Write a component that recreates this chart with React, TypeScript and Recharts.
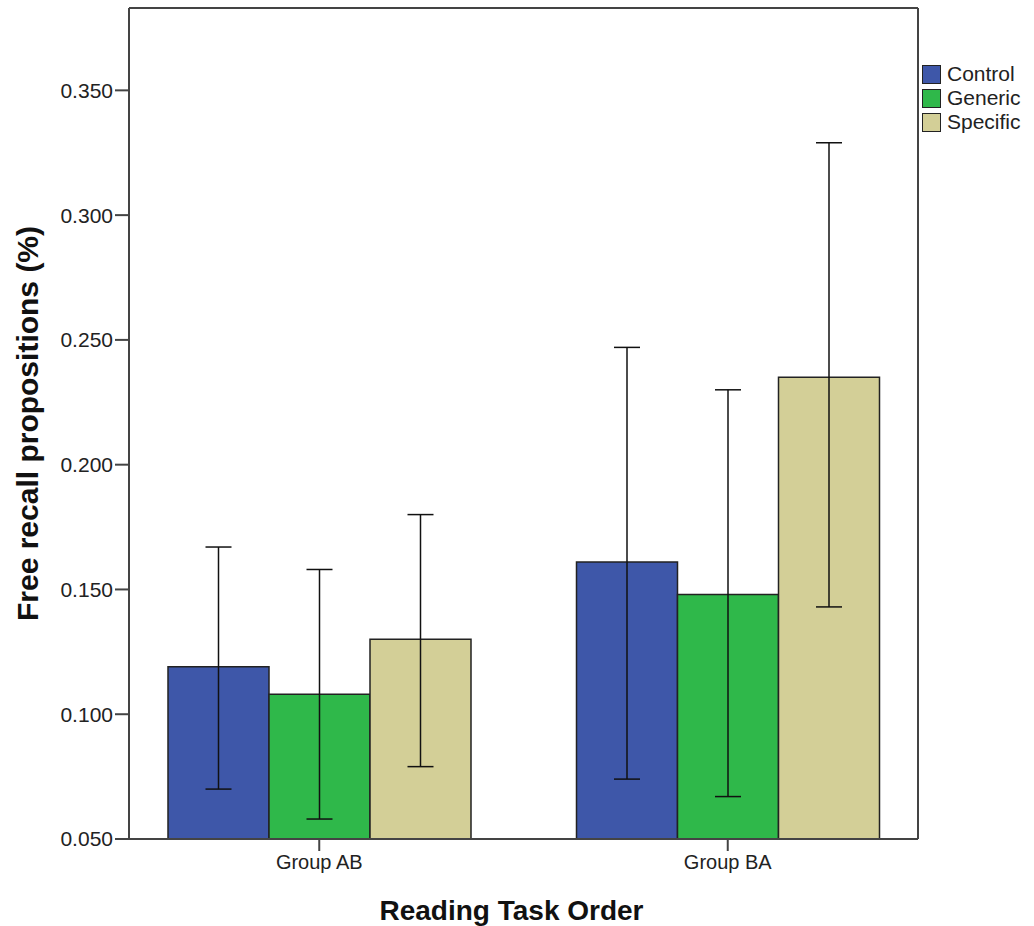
import React from 'react';
import { BarChart, Bar, XAxis, YAxis, ErrorBar, Legend } from 'recharts';

const groups = ['Group AB', 'Group BA'];

const controlMean = [0.119, 0.161];
const controlLow = [0.070, 0.074];
const controlHigh = [0.167, 0.247];

const genericMean = [0.108, 0.148];
const genericLow = [0.058, 0.067];
const genericHigh = [0.158, 0.230];

const specificMean = [0.130, 0.235];
const specificLow = [0.079, 0.143];
const specificHigh = [0.180, 0.329];

const yTicks = [0.05, 0.1, 0.15, 0.2, 0.25, 0.3, 0.35];

const series = [
  { key: 'control', name: 'Control', color: '#3e57a9' },
  { key: 'generic', name: 'Generic', color: '#2fb84a' },
  { key: 'specific', name: 'Specific', color: '#d3cf97' },
];

const data = groups.map((group, i) => ({
  group,
  control: controlMean[i],
  controlErr: [controlMean[i] - controlLow[i], controlHigh[i] - controlMean[i]],
  generic: genericMean[i],
  genericErr: [genericMean[i] - genericLow[i], genericHigh[i] - genericMean[i]],
  specific: specificMean[i],
  specificErr: [specificMean[i] - specificLow[i], specificHigh[i] - specificMean[i]],
}));

const font = '"Liberation Sans", Arial, sans-serif';
const frame = { stroke: '#444', strokeWidth: 2 };

const LegendBox = () => (
  <div style={{ fontFamily: font, fontSize: 21, color: '#222' }}>
    {series.map((s) => (
      <div key={s.key} style={{ display: 'flex', alignItems: 'center', height: 24 }}>
        <span
          style={{
            display: 'inline-block',
            width: 17,
            height: 17,
            background: s.color,
            border: '1.5px solid #222',
            marginRight: 6,
          }}
        />
        <span>{s.name}</span>
      </div>
    ))}
  </div>
);

export default function App() {
  return (
    <div style={{ position: 'absolute', left: 0, top: 0 }}>
      <BarChart
        width={1034}
        height={926}
        data={data}
        margin={{ top: 7, right: 115, bottom: 0, left: 0 }}
        barGap={0}
        barCategoryGap={53}
      >
        <XAxis
          dataKey="group"
          height={87}
          padding={{ left: -14, right: -14 }}
          axisLine={frame}
          tickLine={{ stroke: '#444', strokeWidth: 2 }}
          tickSize={12}
          tickMargin={4}
          tick={{ fontFamily: font, fontSize: 20, fill: '#222' }}
          label={{
            value: 'Reading Task Order',
            position: 'insideBottom',
            offset: 6,
            dx: -12,
            style: { fontFamily: font, fontSize: 28, fontWeight: 'bold', fill: '#111' },
          }}
        />
        <XAxis
          xAxisId="top"
          orientation="top"
          dataKey="group"
          height={1}
          tick={false}
          tickLine={false}
          axisLine={frame}
        />
        <YAxis
          width={129}
          domain={[0.05, 0.383]}
          allowDataOverflow
          ticks={yTicks}
          tickFormatter={(v: number) => v.toFixed(3)}
          axisLine={frame}
          tickLine={{ stroke: '#444', strokeWidth: 2 }}
          tickSize={14}
          tickMargin={2}
          tick={{ fontFamily: font, fontSize: 21, fill: '#222' }}
          label={{
            value: 'Free recall propositions (%)',
            angle: -90,
            position: 'insideLeft',
            offset: 27,
            style: { fontFamily: font, fontSize: 30, fontWeight: 'bold', fill: '#111', textAnchor: 'middle' },
          }}
        />
        <YAxis
          yAxisId="right"
          orientation="right"
          width={1}
          domain={[0, 1]}
          tick={false}
          tickLine={false}
          axisLine={frame}
        />
        <Legend
          layout="vertical"
          align="center"
          verticalAlign="middle"
          content={<LegendBox />}
          wrapperStyle={{ left: 922, top: 62, width: 112, height: 76 }}
        />
        {series.map((s) => (
          <Bar
            key={s.key}
            dataKey={s.key}
            name={s.name}
            fill={s.color}
            stroke="#222"
            strokeWidth={1.5}
            isAnimationActive={false}
          >
            <ErrorBar dataKey={`${s.key}Err`} direction="y" width={13} stroke="#111" strokeWidth={1.5} />
          </Bar>
        ))}
      </BarChart>
    </div>
  );
}
